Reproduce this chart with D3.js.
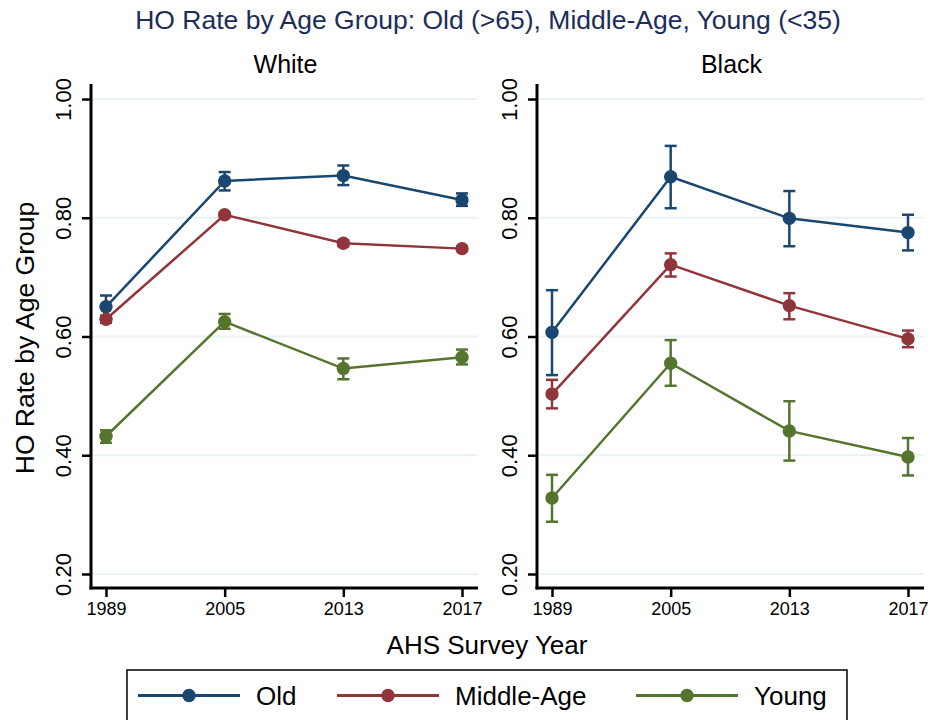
<!DOCTYPE html>
<html>
<head>
<meta charset="utf-8">
<script src="https://cdn.jsdelivr.net/npm/d3@7"></script>
<style>
  html, body { margin: 0; padding: 0; background: #fff; }
  svg { display: block; font-family: "Liberation Sans", Arial, sans-serif; }
</style>
</head>
<body>
<svg id="chart" width="931" height="720"></svg>
<script>
// Survey years (categorical x axis) and y tick values
const years = ["1989", "2005", "2013", "2017"];
const yTicks = [0.2, 0.4, 0.6, 0.8, 1.0];
const panels = ["White", "Black"];
const groups = ["Old", "Middle-Age", "Young"];
const colors = ["#1a476f", "#90353b", "#55752f"];

// Homeownership rate estimates with confidence bounds, per panel and group
const whiteOld = [0.650, 0.862, 0.871, 0.830];
const whiteOldLo = [0.632, 0.846, 0.855, 0.820];
const whiteOldHi = [0.669, 0.877, 0.888, 0.841];
const whiteMid = [0.629, 0.805, 0.757, 0.748];
const whiteMidLo = [0.623, 0.801, 0.752, 0.744];
const whiteMidHi = [0.635, 0.809, 0.762, 0.752];
const whiteYoung = [0.432, 0.625, 0.546, 0.565];
const whiteYoungLo = [0.421, 0.613, 0.528, 0.553];
const whiteYoungHi = [0.442, 0.638, 0.563, 0.578];

const blackOld = [0.607, 0.869, 0.799, 0.775];
const blackOldLo = [0.535, 0.816, 0.752, 0.745];
const blackOldHi = [0.678, 0.921, 0.845, 0.805];
const blackMid = [0.503, 0.721, 0.652, 0.596];
const blackMidLo = [0.479, 0.701, 0.629, 0.582];
const blackMidHi = [0.527, 0.740, 0.673, 0.610];
const blackYoung = [0.328, 0.555, 0.441, 0.397];
const blackYoungLo = [0.288, 0.517, 0.391, 0.366];
const blackYoungHi = [0.367, 0.594, 0.491, 0.429];

const panelData = {
  White: [[whiteOld, whiteOldLo, whiteOldHi], [whiteMid, whiteMidLo, whiteMidHi], [whiteYoung, whiteYoungLo, whiteYoungHi]],
  Black: [[blackOld, blackOldLo, blackOldHi], [blackMid, blackMidLo, blackMidHi], [blackYoung, blackYoungLo, blackYoungHi]]
};

const svg = d3.select("#chart");
const font = "'Liberation Sans', Arial, sans-serif";

// Main title
svg.append("text")
  .attr("x", 488).attr("y", 29)
  .attr("text-anchor", "middle")
  .attr("font-size", 26.5)
  .attr("fill", "#1c2d5a")
  .text("HO Rate by Age Group: Old (>65), Middle-Age, Young (<35)");

const plotTop = 84, plotBottom = 588;
const panelLeft = [91, 537];
const panelWidth = 387;

const y = d3.scaleLinear().domain([0.2, 1.0]).range([574, 99]);

panels.forEach((name, pi) => {
  const x0 = panelLeft[pi];
  const x = d3.scalePoint().domain(years).range([x0 + 15, x0 + panelWidth - 16]);
  const g = svg.append("g");

  // Panel title
  g.append("text")
    .attr("x", x0 + panelWidth / 2 + 1).attr("y", 73)
    .attr("text-anchor", "middle")
    .attr("font-size", 25)
    .attr("fill", "#000")
    .text(name);

  // Horizontal gridlines
  g.selectAll("line.grid").data(yTicks).join("line")
    .attr("class", "grid")
    .attr("x1", x0 + 2).attr("x2", x0 + panelWidth)
    .attr("y1", d => y(d)).attr("y2", d => y(d))
    .attr("stroke", "#eaf2f3").attr("stroke-width", 2);

  // Y axis
  const yAxis = d3.axisLeft(y).tickValues(yTicks).tickSize(9).tickFormat(d3.format(".2f"));
  const ya = g.append("g").attr("transform", `translate(${x0},0)`).call(yAxis);
  ya.select(".domain").remove();
  ya.selectAll(".tick line").attr("stroke", "#000").attr("stroke-width", 2.5);
  ya.selectAll(".tick text")
    .attr("font-family", font).attr("font-size", 22).attr("fill", "#000")
    .attr("x", 0).attr("dy", 0)
    .attr("text-anchor", "middle")
    .attr("transform", "translate(-20,0) rotate(-90)");
  g.append("line")
    .attr("x1", x0).attr("x2", x0).attr("y1", plotTop).attr("y2", plotBottom + 1.5)
    .attr("stroke", "#000").attr("stroke-width", 3);

  // X axis
  const xAxis = d3.axisBottom(x).tickSize(9);
  const xa = g.append("g").attr("transform", `translate(0,${plotBottom})`).call(xAxis);
  xa.select(".domain").remove();
  xa.selectAll(".tick line").attr("stroke", "#000").attr("stroke-width", 2.5);
  xa.selectAll(".tick text")
    .attr("font-family", font).attr("font-size", 18).attr("fill", "#000")
    .attr("y", 14).attr("dy", "0.71em")
    .attr("transform", null);
  g.append("line")
    .attr("x1", x0 - 1.5).attr("x2", x0 + panelWidth).attr("y1", plotBottom).attr("y2", plotBottom)
    .attr("stroke", "#000").attr("stroke-width", 3);

  // Series: line, error bars, markers
  panelData[name].forEach(([vals, lo, hi], si) => {
    const c = colors[si];
    const pts = years.map((yr, i) => ({ yr, v: vals[i], lo: lo[i], hi: hi[i] }));
    g.append("path")
      .datum(pts)
      .attr("fill", "none").attr("stroke", c).attr("stroke-width", 2.5)
      .attr("d", d3.line().x(d => x(d.yr)).y(d => y(d.v)));
    const eb = g.append("g").attr("stroke", c).attr("stroke-width", 2.5);
    eb.selectAll("line.v").data(pts).join("line").attr("class", "v")
      .attr("x1", d => x(d.yr)).attr("x2", d => x(d.yr))
      .attr("y1", d => y(d.lo)).attr("y2", d => y(d.hi));
    eb.selectAll("line.t").data(pts).join("line").attr("class", "t")
      .attr("x1", d => x(d.yr) - 6).attr("x2", d => x(d.yr) + 6)
      .attr("y1", d => y(d.hi)).attr("y2", d => y(d.hi));
    eb.selectAll("line.b").data(pts).join("line").attr("class", "b")
      .attr("x1", d => x(d.yr) - 6).attr("x2", d => x(d.yr) + 6)
      .attr("y1", d => y(d.lo)).attr("y2", d => y(d.lo));
    g.selectAll(null).data(pts).join("circle")
      .attr("cx", d => x(d.yr)).attr("cy", d => y(d.v)).attr("r", 6.7)
      .attr("fill", c);
  });
});

// Axis titles
svg.append("text")
  .attr("transform", "translate(34,338) rotate(-90)")
  .attr("text-anchor", "middle")
  .attr("font-size", 26.5).attr("fill", "#000")
  .text("HO Rate by Age Group");

svg.append("text")
  .attr("x", 487).attr("y", 654)
  .attr("text-anchor", "middle")
  .attr("font-size", 26).attr("fill", "#000")
  .text("AHS Survey Year");

// Legend
const legend = svg.append("g");
legend.append("rect")
  .attr("x", 127).attr("y", 670).attr("width", 720).attr("height", 60)
  .attr("fill", "#fff").attr("stroke", "#000").attr("stroke-width", 1.5);
const legX = [138, 337, 636];
groups.forEach((gname, i) => {
  const lx = legX[i];
  legend.append("line")
    .attr("x1", lx).attr("x2", lx + 102).attr("y1", 695.5).attr("y2", 695.5)
    .attr("stroke", colors[i]).attr("stroke-width", 3);
  legend.append("circle").attr("cx", lx + 51).attr("cy", 695.5).attr("r", 6.7).attr("fill", colors[i]);
  legend.append("text")
    .attr("x", lx + 118).attr("y", 705)
    .attr("font-size", 26).attr("fill", "#000")
    .text(gname);
});
</script>
</body>
</html>
